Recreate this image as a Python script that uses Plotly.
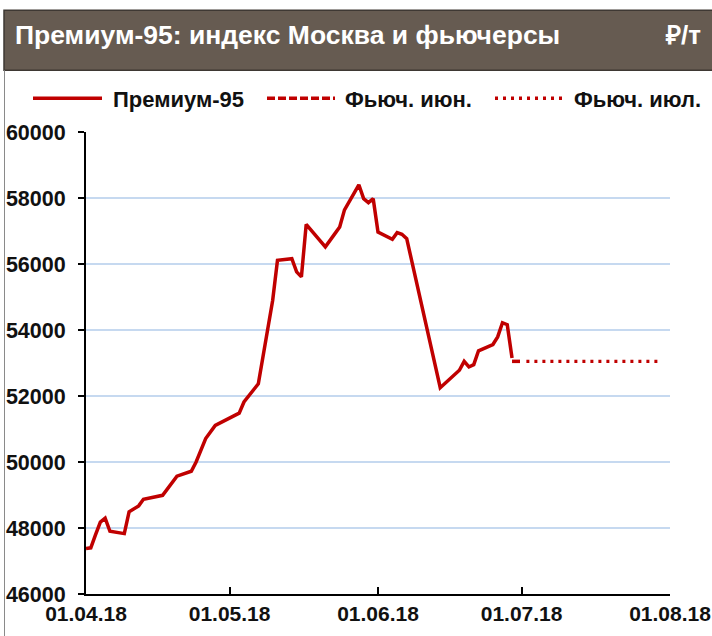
import plotly.graph_objects as go

# ---------------- data ----------------
premium_dates = [
    "2018-04-01", "2018-04-02", "2018-04-03", "2018-04-04", "2018-04-05", "2018-04-06",
    "2018-04-09", "2018-04-10", "2018-04-12", "2018-04-13", "2018-04-17", "2018-04-18",
    "2018-04-19", "2018-04-20", "2018-04-23", "2018-04-24", "2018-04-26", "2018-04-28",
    "2018-05-03", "2018-05-04", "2018-05-07", "2018-05-10", "2018-05-11", "2018-05-14",
    "2018-05-15", "2018-05-16", "2018-05-17", "2018-05-21", "2018-05-23", "2018-05-24",
    "2018-05-25", "2018-05-28", "2018-05-29", "2018-05-30", "2018-05-31", "2018-06-01",
    "2018-06-04", "2018-06-05", "2018-06-06", "2018-06-07", "2018-06-14", "2018-06-18",
    "2018-06-19", "2018-06-20", "2018-06-21", "2018-06-22", "2018-06-25", "2018-06-26",
    "2018-06-27", "2018-06-28", "2018-06-29",
]
premium_values = [
    47380, 47400, 47800, 48180, 48300, 47900,
    47830, 48490, 48670, 48870, 48990, 49190,
    49360, 49570, 49720, 50000, 50710, 51110,
    51480, 51820, 52370, 54900, 56110, 56160,
    55760, 55610, 57200, 56520, 56920, 57120,
    57640, 58400, 57980, 57860, 57980, 56970,
    56750, 56950, 56900, 56770, 52250, 52780,
    53050, 52880, 52950, 53370, 53560, 53790,
    54220, 54160, 53150,
]
fut_jun_dates = ["2018-06-29", "2018-07-01"]
fut_jun_values = [53050, 53050]
fut_jul_dates = ["2018-07-02", "2018-07-30"]
fut_jul_values = [53050, 53050]

series_names = ["Премиум-95", "Фьюч. июн.", "Фьюч. июл."]
tick_dates = ["2018-04-01", "2018-05-01", "2018-06-01", "2018-07-01", "2018-08-01"]
tick_labels = ["01.04.18", "01.05.18", "01.06.18", "01.07.18", "01.08.18"]
y_ticks = [46000, 48000, 50000, 52000, 54000, 56000, 58000, 60000]
y_tick_labels = ["46000", "48000", "50000", "52000", "54000", "56000", "58000", "60000"]
title_text = "Премиум-95: индекс Москва и фьючерсы"
unit_text = "₽/т"

# ---------------- styling ----------------
W, H = 712, 636
L, R = 86, 670          # plot area, pixels
T, B = 131.7, 593.7
RED = "#c00000"
FONT = "Liberation Sans, Arial, sans-serif"

def px(x):
    return (x - L) / (R - L)

def py(y):
    return (B - y) / (B - T)

fig = go.Figure()
fig.add_trace(go.Scatter(x=premium_dates, y=premium_values, mode="lines",
                         name=series_names[0], line=dict(color=RED, width=3.5),
                         showlegend=False))
fig.add_trace(go.Scatter(x=fut_jun_dates, y=fut_jun_values, mode="lines",
                         name=series_names[1], line=dict(color=RED, width=3.5, dash="8px,3px"),
                         showlegend=False))
fig.add_trace(go.Scatter(x=fut_jul_dates, y=fut_jul_values, mode="lines",
                         name=series_names[2], line=dict(color=RED, width=3.3, dash="3px,5px"),
                         showlegend=False))

shapes = []
annotations = []

# header bar
shapes.append(dict(type="rect", xref="paper", yref="paper",
                   x0=px(4), x1=px(713), y0=py(70), y1=py(10),
                   fillcolor="#665b51", line=dict(color="#3e3833", width=1.5), layer="above"))
# left frame line
shapes.append(dict(type="line", xref="paper", yref="paper",
                   x0=px(4.5), x1=px(4.5), y0=py(70), y1=py(640),
                   line=dict(color="#8a8a8a", width=1)))
annotations.append(dict(text="<b>" + title_text + "</b>", xref="paper", yref="paper",
                        x=px(13), y=py(35), xanchor="left", yanchor="middle", showarrow=False,
                        font=dict(family=FONT, size=26.5, color="white")))
annotations.append(dict(text="<b>" + unit_text + "</b>", xref="paper", yref="paper",
                        x=px(703), y=py(35), xanchor="right", yanchor="middle", showarrow=False,
                        font=dict(family=FONT, size=26, color="white")))

# manual legend
legend_items = [
    (33, 102, "solid", 111),
    (267, 335, "8px,3px", 343),
    (495, 562, "3px,5px", 572),
]
for (x0, x1, dash, tx), name in zip(legend_items, series_names):
    shapes.append(dict(type="line", xref="paper", yref="paper",
                       x0=px(x0), x1=px(x1), y0=py(98), y1=py(98),
                       line=dict(color=RED, width=3.5, dash=dash)))
    annotations.append(dict(text="<b>" + name + "</b>", xref="paper", yref="paper",
                            x=px(tx), y=py(99), xanchor="left", yanchor="middle",
                            showarrow=False,
                            font=dict(family=FONT, size=22, color="#111111")))

fig.update_layout(
    width=W, height=H, autosize=False,
    margin=dict(l=L, r=W - R, t=T, b=H - B, pad=0, autoexpand=False),
    paper_bgcolor="white", plot_bgcolor="white",
    shapes=shapes, annotations=annotations,
    showlegend=False,
    xaxis=dict(
        type="date", range=["2018-04-01", "2018-08-01"], automargin=False,
        tickmode="array", tickvals=tick_dates, ticktext=tick_labels,
        showgrid=False, zeroline=False,
        showline=True, linecolor="black", linewidth=2,
        ticks="inside", ticklen=7, tickwidth=2, tickcolor="black",
        tickfont=dict(family=FONT, size=21, color="#111111", weight="bold"),
    ),
    yaxis=dict(
        range=[46000, 60000], tickmode="array", tickvals=y_ticks, ticktext=y_tick_labels,
        automargin=False,
        showgrid=True, gridcolor="#c6d9f0", gridwidth=2,
        zeroline=False,
        showline=True, linecolor="black", linewidth=2,
        ticks="outside", ticklen=6, tickwidth=2, tickcolor="black",
        ticklabelstandoff=8,
        tickfont=dict(family=FONT, size=21.5, color="#111111", weight="bold"),
    ),
)

fig.write_html("out.html", config={"displayModeBar": False, "responsive": False},
               post_script="document.body.style.margin='0px';")
